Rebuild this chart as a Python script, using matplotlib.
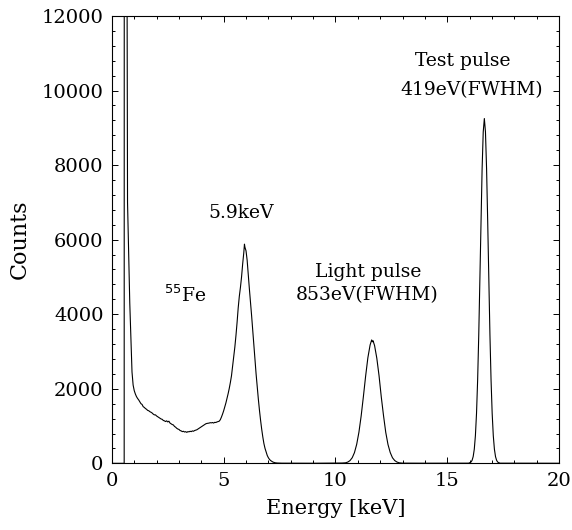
import matplotlib
matplotlib.use("Agg")
import matplotlib.pyplot as plt
from matplotlib.ticker import MultipleLocator

# Spectrum: energy [keV] and counts
energy_kev = [
    0.00, 0.50, 0.55, 0.56, 0.66, 0.68, 0.70, 0.75, 0.80, 0.85, 0.90, 0.95,
    1.00, 1.05, 1.10, 1.15, 1.20, 1.25, 1.30, 1.35, 1.40, 1.45, 1.50, 1.55,
    1.60, 1.65, 1.70, 1.75, 1.80, 1.85, 1.90, 1.95, 2.00, 2.05, 2.10, 2.15,
    2.20, 2.25, 2.30, 2.35, 2.40, 2.45, 2.50, 2.55, 2.60, 2.65, 2.70, 2.75,
    2.80, 2.85, 2.90, 2.95, 3.00, 3.05, 3.10, 3.15, 3.20, 3.25, 3.30, 3.35,
    3.40, 3.45, 3.50, 3.55, 3.60, 3.65, 3.70, 3.75, 3.80, 3.85, 3.90, 3.95,
    4.00, 4.05, 4.10, 4.15, 4.20, 4.25, 4.30, 4.35, 4.40, 4.45, 4.50, 4.55,
    4.60, 4.65, 4.70, 4.75, 4.80, 4.85, 4.90, 4.95, 5.00, 5.05, 5.10, 5.15,
    5.20, 5.25, 5.30, 5.35, 5.40, 5.45, 5.50, 5.55, 5.60, 5.65, 5.70, 5.75,
    5.80, 5.85, 5.90, 5.93, 5.95, 6.00, 6.05, 6.10, 6.15, 6.20, 6.25, 6.30,
    6.35, 6.40, 6.45, 6.50, 6.55, 6.60, 6.65, 6.70, 6.75, 6.80, 6.85, 6.90,
    6.95, 7.00, 7.05, 7.10, 7.20, 7.30, 7.40, 7.60, 8.00, 9.00, 10.00, 10.30,
    10.45, 10.55, 10.65, 10.75, 10.85, 10.95, 11.05, 11.15, 11.25, 11.35,
    11.45, 11.55, 11.62, 11.65, 11.68, 11.75, 11.85, 11.95, 12.05, 12.15,
    12.25, 12.35, 12.45, 12.55, 12.65, 12.75, 12.85, 13.00, 14.00, 15.00,
    15.80, 15.96, 16.06, 16.11, 16.16, 16.21, 16.26, 16.31, 16.36, 16.41,
    16.46, 16.51, 16.56, 16.61, 16.66, 16.71, 16.76, 16.81, 16.86, 16.91,
    16.96, 17.01, 17.06, 17.11, 17.16, 17.21, 17.26, 17.36, 18.00, 19.00,
    20.00,
]
counts = [
    0, 0, 0, 40000, 40000, 12500, 7000, 5600, 4300, 3400, 2450, 2100,
    1950, 1860, 1790, 1740, 1700, 1650, 1600, 1580, 1520, 1500, 1470, 1450,
    1420, 1410, 1385, 1370, 1350, 1320, 1300, 1300, 1270, 1250, 1230, 1210,
    1190, 1180, 1150, 1140, 1120, 1140, 1110, 1130, 1080, 1060, 1040, 1030,
    990, 970, 940, 920, 910, 880, 870, 850, 860, 840, 850, 830,
    850, 845, 860, 850, 870, 860, 880, 890, 900, 920, 940, 960,
    980, 1000, 1020, 1040, 1060, 1070, 1075, 1080, 1090, 1085, 1095, 1080,
    1100, 1095, 1110, 1120, 1130, 1170, 1240, 1320, 1410, 1510, 1620, 1740,
    1870, 2010, 2170, 2350, 2600, 2830, 3120, 3430, 3780, 4170, 4480, 4720,
    5000, 5350, 5650, 5880, 5800, 5700, 5450, 5050, 4680, 4330, 3960, 3580,
    3180, 2780, 2400, 2060, 1730, 1430, 1160, 920, 710, 530, 400, 300,
    210, 150, 105, 75, 35, 15, 8, 4, 3, 2, 5, 8,
    14, 33, 73, 150, 287, 509, 835, 1271, 1792, 2340,
    2832, 3175, 3310, 3260, 3290, 3160, 2820, 2350, 1780, 1280,
    830, 505, 290, 150, 75, 35, 14, 5, 3, 4,
    5, 4, 32, 78, 179, 379, 742, 1340, 2237, 3450,
    4920, 6485, 7900, 8890, 9250, 8890, 7900, 6485, 4920, 3450,
    2237, 1340, 742, 379, 179, 78, 32, 4, 3, 4,
    2,
]

x_major = [0, 5, 10, 15, 20]
y_major = [0, 2000, 4000, 6000, 8000, 10000, 12000]

plt.rcParams['font.family'] = ['DejaVu Serif']
fig = plt.figure(figsize=(5.72, 5.30), dpi=100)
ax = fig.add_axes([0.1956, 0.1258, 0.7817, 0.8440])

ax.plot(energy_kev, counts, color='black', linewidth=0.8)

ax.set_xlim(0, 20)
ax.set_ylim(0, 12000)
ax.set_xticks(x_major)
ax.set_yticks(y_major)
ax.xaxis.set_minor_locator(MultipleLocator(1))
ax.yaxis.set_minor_locator(MultipleLocator(400))
ax.tick_params(which='both', direction='in', top=True, right=True,
               labelsize=14, width=0.7)
ax.tick_params(which='major', length=4.5, pad=6)
ax.tick_params(which='minor', length=2)
for s in ax.spines.values():
    s.set_linewidth(0.8)

ax.set_xlabel('Energy [keV]', fontsize=15, labelpad=7)
ax.set_ylabel('Counts', fontsize=16, labelpad=8)

fs = 13.5
ax.text(15.68, 10780, 'Test pulse', ha='center', va='center', fontsize=fs)
ax.text(16.1, 10020, '419eV(FWHM)', ha='center', va='center', fontsize=fs)
ax.text(5.78, 6720, '5.9keV', ha='center', va='center', fontsize=fs)
ax.text(11.48, 5120, 'Light pulse', ha='center', va='center', fontsize=fs)
ax.text(11.4, 4520, '853eV(FWHM)', ha='center', va='center', fontsize=fs)
ax.text(3.3, 4520, '$^{55}$Fe', ha='center', va='center', fontsize=fs)

fig.savefig('out.png', dpi=100)
